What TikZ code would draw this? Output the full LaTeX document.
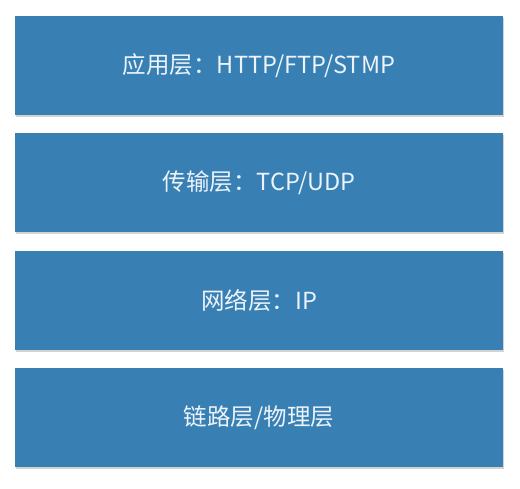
\documentclass[tikz,border=0pt]{standalone}
\usepackage{fontspec}
\setmainfont{Noto Sans CJK SC}
\usetikzlibrary{shadows}
\definecolor{layerblue}{RGB}{56,128,180}
\definecolor{layertext}{RGB}{236,243,250}
\def\wid{488pt}
\def\hei{99pt}

\begin{document}
\begin{tikzpicture}[x=1pt,y=1pt]
\useasboundingbox (0,0) rectangle (520,489);
\tikzset{layer/.style={fill=layerblue,minimum width=\wid,minimum height=\hei,inner sep=0pt,text=layertext,font=\fontsize{23.5}{27}\selectfont,drop shadow={shadow xshift=1pt,shadow yshift=-2pt,opacity=0.35}}}
\node[layer] (app) at (259,423) {应用层：HTTP/FTP/STMP};
\node[layer] (trans) at (259,306.5) {传输层：TCP/UDP};
\node[layer] (net) at (259,188.5) {网络层：IP};
\node[layer] (link) at (259,71.5) {链路层/物理层};
\end{tikzpicture}
\end{document}
